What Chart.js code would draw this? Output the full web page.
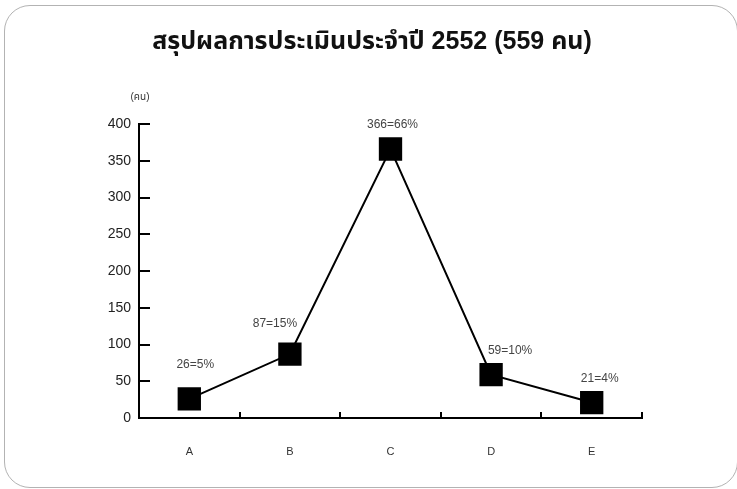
<!DOCTYPE html>
<html>
<head>
<meta charset="utf-8">
<script src="https://cdn.jsdelivr.net/npm/chart.js@4/dist/chart.umd.min.js"></script>
<style>
  html, body { margin: 0; padding: 0; background: #fff; }
  #wrap { position: relative; width: 737px; height: 489px; overflow: hidden; }
  #frame {
    position: absolute; left: 4px; top: 5px; width: 734px; height: 483px;
    border: 1.5px solid #b3b3b3; border-radius: 26px; box-sizing: border-box;
  }
  #c { position: absolute; left: 0; top: 0; }
</style>
</head>
<body>
<div id="wrap">
  <div id="frame"></div>
  <canvas id="c" width="737" height="489"></canvas>
</div>
<script>
// Evaluation results, year 2552
const categories = ['A', 'B', 'C', 'D', 'E'];
const counts = [26, 87, 366, 59, 21];
const percents = [5, 15, 66, 10, 4];
const yTicks = [0, 50, 100, 150, 200, 250, 300, 350, 400];

const titleText = 'สรุปผลการประเมินประจำปี 2552 (559 คน)';
const unitText = '(คน)';
const baseFont = "'Liberation Sans', Arial, 'Noto Sans Thai', 'DejaVu Sans', sans-serif";

// Heading, inward-facing axis ticks, unit caption and value labels
const decor = {
  id: 'decor',
  afterDraw(chart) {
    const ctx = chart.ctx;
    const xs = chart.scales.x, ys = chart.scales.y;
    const area = chart.chartArea;
    ctx.save();
    // heading centred over the frame
    ctx.fillStyle = '#111';
    ctx.font = 'bold 25px ' + baseFont;
    ctx.textAlign = 'center';
    ctx.textBaseline = 'middle';
    ctx.fillText(titleText, 372, 42);

    ctx.strokeStyle = '#000';
    ctx.lineWidth = 2;
    // y ticks point right into the plot
    yTicks.forEach(v => {
      const py = Math.round(ys.getPixelForValue(v));
      ctx.beginPath();
      ctx.moveTo(area.left, py);
      ctx.lineTo(area.left + 11, py);
      ctx.stroke();
    });
    // x ticks at category boundaries point up
    const step = xs.getPixelForValue(1) - xs.getPixelForValue(0);
    for (let i = 1; i <= categories.length; i++) {
      const px = Math.round(xs.getPixelForValue(i - 1) + step / 2);
      ctx.beginPath();
      ctx.moveTo(px, area.bottom);
      ctx.lineTo(px, area.bottom - 6);
      ctx.stroke();
    }
    // unit caption above the value axis
    ctx.fillStyle = '#333';
    ctx.font = '10px ' + baseFont;
    ctx.fillText(unitText, area.left + 1, 97);
    ctx.restore();
  },
  afterDatasetsDraw(chart) {
    const ctx = chart.ctx;
    const meta = chart.getDatasetMeta(0);
    const nudge = [[6, -34], [-15, -30], [2, -24], [19, -24], [8, -24]];
    ctx.save();
    ctx.fillStyle = '#444';
    ctx.font = '12px ' + baseFont;
    ctx.textAlign = 'center';
    ctx.textBaseline = 'middle';
    meta.data.forEach((pt, i) => {
      const label = counts[i] + '=' + percents[i] + '%';
      ctx.fillText(label, pt.x + nudge[i][0], pt.y + nudge[i][1]);
    });
    ctx.restore();
  }
};

new Chart(document.getElementById('c'), {
  type: 'line',
  data: {
    labels: categories,
    datasets: [{
      data: counts,
      borderColor: '#000',
      borderWidth: 2,
      pointStyle: 'rect',
      pointRadius: 16.5,
      pointHoverRadius: 16.5,
      pointBackgroundColor: '#000',
      pointBorderColor: '#000',
      pointBorderWidth: 0,
      tension: 0
    }]
  },
  options: {
    responsive: false,
    animation: false,
    devicePixelRatio: 1,
    layout: { padding: { left: 0, right: 95, top: 124, bottom: 0 } },
    plugins: {
      legend: { display: false },
      tooltip: { enabled: false },
      title: { display: false }
    },
    scales: {
      x: {
        offset: true,
        grid: { display: false, drawTicks: false },
        border: { display: true, color: '#000', width: 2 },
        ticks: { color: '#333', padding: 27, font: { family: baseFont, size: 11 } },
        afterFit(scale) { scale.height = 71; }
      },
      y: {
        min: 0,
        max: 400,
        afterBuildTicks(scale) { scale.ticks = yTicks.map(v => ({ value: v })); },
        grid: { display: false, drawTicks: false },
        border: { display: true, color: '#000', width: 2 },
        ticks: { color: '#222', padding: 8, font: { family: baseFont, size: 14 } },
        afterFit(scale) { scale.width = 139; }
      }
    }
  },
  plugins: [decor]
});
</script>
</body>
</html>
